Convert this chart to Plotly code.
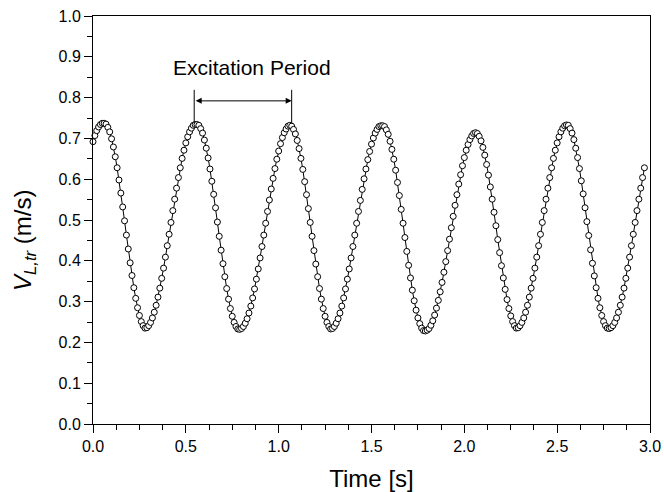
import plotly.graph_objects as go

# Sampling step of the measured signal (s)
time_step = 0.01

# Velocity V_L,tr (m/s), piece by piece along the time axis
v_start = [0.692, 0.707, 0.719, 0.728, 0.734, 0.737]
v_fall_1 = [0.737, 0.735, 0.727, 0.716, 0.699, 0.679, 0.655, 0.628, 0.598, 0.566, 0.532, 0.498,
            0.463, 0.429, 0.395, 0.364, 0.334, 0.308, 0.285, 0.266, 0.251, 0.241, 0.235]
v_rise_1 = [0.236, 0.241, 0.249, 0.260, 0.274, 0.291, 0.311, 0.333, 0.357, 0.382, 0.409, 0.437,
            0.465, 0.494, 0.523, 0.551, 0.578, 0.604, 0.628, 0.651, 0.671, 0.689, 0.704, 0.716,
            0.725, 0.732, 0.734]
v_fall_2 = [0.734, 0.732, 0.724, 0.713, 0.696, 0.676, 0.652, 0.625, 0.595, 0.563, 0.530, 0.495,
            0.460, 0.426, 0.393, 0.361, 0.332, 0.306, 0.283, 0.264, 0.249, 0.239, 0.233, 0.232]
v_rise_2 = [0.234, 0.239, 0.247, 0.258, 0.272, 0.289, 0.309, 0.331, 0.355, 0.380, 0.407, 0.435,
            0.463, 0.492, 0.521, 0.549, 0.576, 0.602, 0.626, 0.649, 0.669, 0.687, 0.702, 0.714,
            0.723, 0.730]
v_fall_3 = [0.732, 0.730, 0.722, 0.711, 0.695, 0.675, 0.651, 0.624, 0.594, 0.562, 0.528, 0.494,
            0.460, 0.425, 0.392, 0.361, 0.332, 0.306, 0.283, 0.264, 0.249, 0.239, 0.233]
v_rise_3 = [0.234, 0.239, 0.247, 0.258, 0.272, 0.289, 0.309, 0.331, 0.355, 0.380, 0.407, 0.435,
            0.463, 0.492, 0.521, 0.548, 0.575, 0.601, 0.625, 0.648, 0.668, 0.686, 0.701, 0.713,
            0.722, 0.729, 0.731]
v_fall_4 = [0.731, 0.729, 0.721, 0.710, 0.693, 0.673, 0.649, 0.622, 0.592, 0.560, 0.526, 0.492,
            0.457, 0.423, 0.389, 0.358, 0.328, 0.302, 0.279, 0.260, 0.246, 0.235, 0.229, 0.228]
v_rise_4 = [0.230, 0.234, 0.242, 0.253, 0.267, 0.284, 0.303, 0.324, 0.347, 0.372, 0.398, 0.425,
            0.453, 0.481, 0.509, 0.536, 0.562, 0.588, 0.611, 0.633, 0.653, 0.671, 0.685, 0.697,
            0.706, 0.712]
v_fall_5 = [0.714, 0.712, 0.705, 0.694, 0.678, 0.659, 0.636, 0.610, 0.581, 0.551, 0.519, 0.486,
            0.452, 0.420, 0.388, 0.358, 0.330, 0.305, 0.283, 0.265, 0.251, 0.241, 0.235]
v_rise_5 = [0.236, 0.241, 0.249, 0.260, 0.274, 0.291, 0.311, 0.333, 0.357, 0.382, 0.409, 0.437,
            0.465, 0.494, 0.523, 0.551, 0.578, 0.604, 0.628, 0.651, 0.671, 0.689, 0.704, 0.716,
            0.725, 0.731]
v_fall_6 = [0.733, 0.732, 0.724, 0.713, 0.697, 0.676, 0.653, 0.626, 0.596, 0.564, 0.530, 0.496,
            0.462, 0.427, 0.394, 0.363, 0.334, 0.308, 0.285, 0.266, 0.251, 0.241, 0.235, 0.234]
v_rise_6 = [0.236, 0.241, 0.249, 0.260, 0.274, 0.291, 0.311, 0.333, 0.357, 0.382, 0.409, 0.437,
            0.465, 0.494, 0.523, 0.551, 0.578, 0.604, 0.628]

# Excitation period marker (s) and labels
period_start = 0.545
period_end = 1.070
period_arrow_v = 0.792
period_line_bottom = 0.737
period_line_top = 0.819
period_label = "Excitation Period"
x_title = "Time [s]"
y_title = "<i>V</i><sub><i>L,tr</i></sub> (m/s)"

velocity = (v_start + v_fall_1 + v_rise_1 + v_fall_2 + v_rise_2 + v_fall_3 + v_rise_3
            + v_fall_4 + v_rise_4 + v_fall_5 + v_rise_5 + v_fall_6 + v_rise_6)
time = [round(i * time_step, 2) for i in range(len(velocity))]

FONT = "Arial, Liberation Sans, Helvetica, sans-serif"

fig = go.Figure()
fig.add_trace(go.Scatter(
    x=time, y=velocity, mode="lines+markers",
    line=dict(color="black", width=1),
    marker=dict(symbol="circle", size=6, color="white", line=dict(color="black", width=1)),
    showlegend=False, cliponaxis=False,
))

# Vertical bars marking the period
for xp in (period_start, period_end):
    fig.add_shape(type="line", xref="x", yref="y", x0=xp, x1=xp,
                  y0=period_line_bottom, y1=period_line_top,
                  line=dict(color="black", width=1))

# Double-headed arrow
fig.add_annotation(x=period_end, y=period_arrow_v, ax=period_start, ay=period_arrow_v,
                   xref="x", yref="y", axref="x", ayref="y", text="",
                   showarrow=True, arrowhead=2, startarrowhead=2, arrowside="end+start",
                   arrowsize=1.2, startarrowsize=1.2, arrowwidth=1, arrowcolor="black",
                   standoff=0, startstandoff=0)

fig.add_annotation(x=0.855, y=0.874, xref="x", yref="y",
                   text=period_label, showarrow=False, xanchor="center", yanchor="middle",
                   font=dict(family=FONT, size=21, color="black"))

# Y axis title as annotation (offset like the reference)
fig.add_annotation(x=-0.123, y=0.452, xref="paper", yref="paper", text=y_title,
                   textangle=-90, showarrow=False, xanchor="center", yanchor="middle",
                   font=dict(family=FONT, size=24, color="black"))

axis_common = dict(
    showline=True, linecolor="black", linewidth=1, mirror=True,
    ticks="outside", ticklen=8, tickwidth=1, tickcolor="black",
    showgrid=False, zeroline=False, automargin=False,
    tickfont=dict(family=FONT, size=16, color="black"),
    tickformat=".1f",
)

fig.update_xaxes(range=[0, 3.0], dtick=0.5, tick0=0,
                 minor=dict(ticks="outside", ticklen=5, dtick=0.125, tick0=0,
                            tickcolor="black", tickwidth=1, showgrid=False),
                 title=dict(text=x_title, font=dict(family=FONT, size=24, color="black"),
                            standoff=20),
                 **axis_common)
fig.update_yaxes(range=[0, 1.0], dtick=0.1, tick0=0,
                 minor=dict(ticks="outside", ticklen=5, dtick=0.05, tick0=0,
                            tickcolor="black", tickwidth=1, showgrid=False),
                 **axis_common)

fig.update_layout(
    width=664, height=492,
    margin=dict(l=93, r=14, t=16, b=68),
    paper_bgcolor="white", plot_bgcolor="white",
    font=dict(family=FONT, color="black"),
)

# Remove the default page margin so the figure sits at the window's corner
fig.write_html("out.html", config={"displayModeBar": False},
               post_script="document.body.style.margin='0';document.body.style.overflow='hidden';")
